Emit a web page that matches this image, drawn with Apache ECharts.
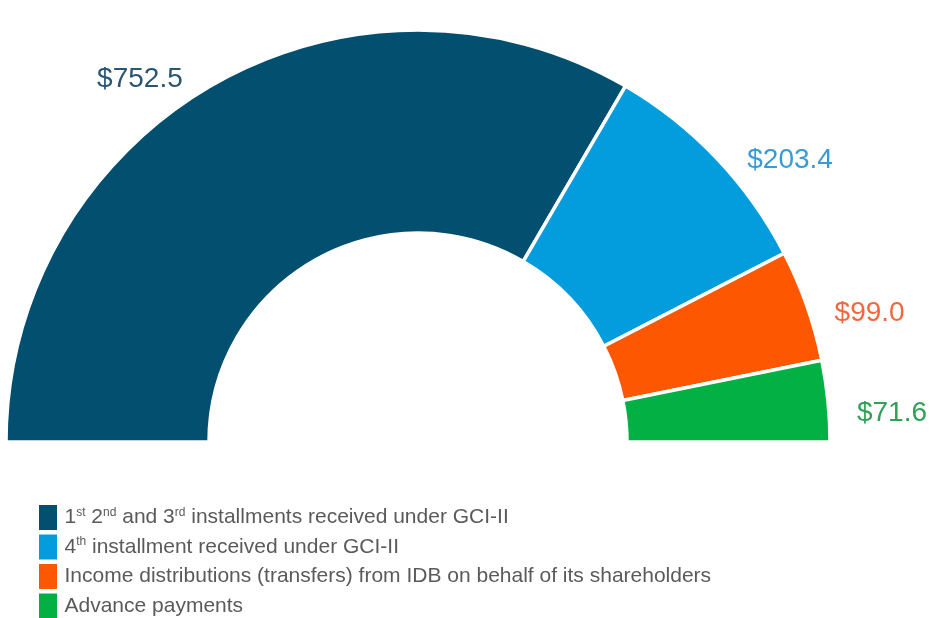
<!DOCTYPE html>
<html>
<head>
<meta charset="utf-8">
<script src="https://cdn.jsdelivr.net/npm/echarts@6/dist/echarts.min.js"></script>
<style>
html,body{margin:0;padding:0;background:#fff;}
#chart{width:929px;height:618px;}
</style>
</head>
<body>
<div id="chart"></div>
<script>
// Data
const categories = [
  '1st 2nd and 3rd installments received under GCI-II',
  '4th installment received under GCI-II',
  'Income distributions (transfers) from IDB on behalf of its shareholders',
  'Advance payments'
];
const values = [752.5, 203.4, 99.0, 71.6];
const valueLabels = ['$752.5', '$203.4', '$99.0', '$71.6'];

// Styles
const sliceColors = ['#024f70', '#039ddd', '#fd5701', '#03b043'];
const labelColors = ['#2a5672', '#3a9ad6', '#f0693c', '#33a05a'];
const labelDx = [0, 0, -3, -2];
const labelDy = [-4, 3, 8, 13];

const chart = echarts.init(document.getElementById('chart'), null, {renderer: 'canvas'});

const data = categories.map((name, i) => ({
  name: name,
  value: values[i],
  itemStyle: {color: sliceColors[i]},
  label: {color: labelColors[i]}
}));

function supFormat(name) {
  return name.replace(/(\d)(st|nd|rd|th)\b/g, '$1{sup|$2}');
}

chart.setOption({
  animation: false,
  backgroundColor: '#ffffff',
  legend: {
    orient: 'vertical',
    left: 36,
    top: 502,
    height: 140,
    padding: 0,
    icon: 'rect',
    itemWidth: 21,
    itemHeight: 28,
    itemGap: -1.5,
    selectedMode: false,
    data: categories,
    formatter: supFormat,
    itemStyle: {borderWidth: 3, borderColor: '#ffffff'},
    textStyle: {
      fontFamily: '"Liberation Sans", Arial, sans-serif',
      fontSize: 21,
      color: '#5a5a5a',
      lineHeight: 22,
      padding: [0, 0, 0, 1],
      rich: {
        sup: {
          fontFamily: '"Liberation Sans", Arial, sans-serif',
          fontSize: 12,
          color: '#5a5a5a',
          verticalAlign: 'top',
          lineHeight: 13
        }
      }
    }
  },
  series: [{
    type: 'pie',
    center: [418, 442],
    radius: [209, 412],
    startAngle: 180,
    endAngle: 0,
    clockwise: true,
    avoidLabelOverlap: false,
    itemStyle: {borderColor: '#ffffff', borderWidth: 3.5},
    emphasis: {disabled: true},
    label: {
      show: true,
      position: 'outside',
      fontFamily: '"Liberation Sans", Arial, sans-serif',
      fontSize: 28,
      distanceToLabelLine: 5,
      formatter: p => valueLabels[p.dataIndex]
    },
    labelLine: {show: false, length: 2, length2: 24},
    labelLayout: p => ({dx: labelDx[p.dataIndex], dy: labelDy[p.dataIndex]}),
    data: data
  }]
});
</script>
</body>
</html>
